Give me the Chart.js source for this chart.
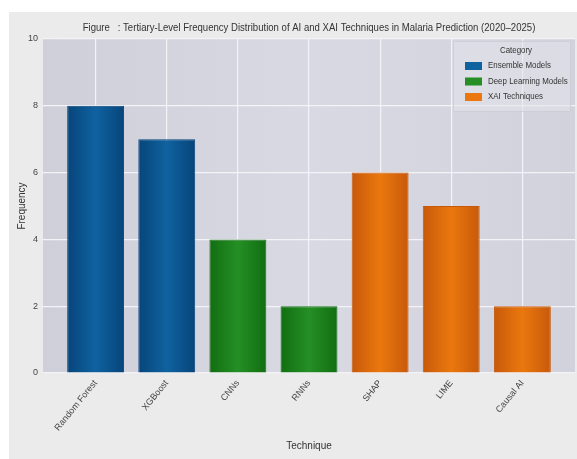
<!DOCTYPE html>
<html>
<head>
<meta charset="utf-8">
<script src="https://cdn.jsdelivr.net/npm/chart.js@4/dist/chart.umd.min.js"></script>
<style>
  body { margin: 0; background: #fff; }
  #wrap { width: 577px; height: 459px; }
</style>
</head>
<body>
<div id="wrap"><canvas id="freqChart" width="577" height="459"></canvas></div>
<script>
const techniques = ['Random Forest', 'XGBoost', 'CNNs', 'RNNs', 'SHAP', 'LIME', 'Causal AI'];
const frequency = [8, 7, 4, 2, 6, 5, 2];
const techniqueCategory = [0, 0, 1, 1, 2, 2, 2];
const categories = ['Ensemble Models', 'Deep Learning Models', 'XAI Techniques'];
const yTicks = [0, 2, 4, 6, 8, 10];

const mainColors = ['#0f62a0', '#258f25', '#ea780e'];
const edgeColors = ['#07457a', '#116e11', '#c8590a'];
const FONT = "'Liberation Sans', Arial, sans-serif";

function shade(k) {
    return function (c) {
        const x = c.chart.scales.x;
        if (!x || !c.raw) return mainColors[k];
        const l = x.getPixelForValue(c.raw.x - 0.4);
        const r = x.getPixelForValue(c.raw.x + 0.4);
        if (!isFinite(l) || !isFinite(r)) return mainColors[k];
        const g = c.chart.ctx.createLinearGradient(l, 0, r, 0);
        g.addColorStop(0, edgeColors[k]);
        g.addColorStop(0.5, mainColors[k]);
        g.addColorStop(1, edgeColors[k]);
        return g;
    };
}

const datasets = categories.map((name, k) => ({
    label: name,
    data: techniques.map((t, i) => ({ x: i, y: frequency[i] })).filter((p, i) => techniqueCategory[i] === k),
    backgroundColor: shade(k),
    borderColor: edgeColors[k],
    borderWidth: 1,
    grouped: false,
    barPercentage: 1,
    categoryPercentage: 0.8
}));

// narrow text: the reference uses a condensed face
function narrowText(c, text, x, y, sx) {
    c.save();
    c.translate(x, y);
    c.scale(sx, 1);
    c.fillText(text, 0, 0);
    c.restore();
}

// figure frame, plot background, title, legend
const decor = {
    id: 'decor',
    beforeDraw(chart) {
        const c = chart.ctx, a = chart.chartArea;
        c.save();
        c.fillStyle = '#ffffff';
        c.fillRect(0, 0, chart.width, chart.height);
        c.fillStyle = '#ebebeb';
        c.fillRect(9, 12, chart.width - 9, chart.height - 12);
        const g = c.createLinearGradient(a.left, 0, a.right, 0);
        g.addColorStop(0, '#cfcfda');
        g.addColorStop(0.5, '#d9d9e3');
        g.addColorStop(1, '#d2d2dd');
        c.fillStyle = g;
        c.fillRect(a.left, a.top, a.right - a.left, a.bottom - a.top);
        c.restore();
    },
    afterDraw(chart) {
        const c = chart.ctx;
        c.save();
        c.fillStyle = '#333';
        c.font = '11px ' + FONT;
        c.textAlign = 'center';
        c.textBaseline = 'middle';
        narrowText(c, 'Figure   : Tertiary-Level Frequency Distribution of AI and XAI Techniques in Malaria Prediction (2020\u20132025)', 309, 28, 0.87);

        // legend
        const bx = 453, by = 41, bw = 117, bh = 70;
        c.fillStyle = 'rgba(226,226,233,0.6)';
        c.strokeStyle = 'rgba(205,205,214,0.9)';
        c.lineWidth = 1;
        c.fillRect(bx, by, bw, bh);
        c.strokeRect(bx + 0.5, by + 0.5, bw, bh);
        c.fillStyle = '#333';
        c.font = '9px ' + FONT;
        narrowText(c, 'Category', 516, 51, 0.88);
        c.textAlign = 'left';
        categories.forEach((name, k) => {
            const y = 66 + k * 15.5;
            c.fillStyle = mainColors[k];
            c.fillRect(465, y - 4, 17, 8);
            c.fillStyle = '#333';
            narrowText(c, name, 488, y, 0.88);
        });
        c.restore();
    }
};

const ctx = document.getElementById('freqChart').getContext('2d');
const freqChart = new Chart(ctx, {
    type: 'bar',
    data: { datasets: datasets },
    options: {
        responsive: false,
        animation: false,
        layout: { padding: { top: 39, right: 2, left: 0, bottom: 0 } },
        plugins: {
            legend: { display: false },
            tooltip: { enabled: false }
        },
        scales: {
            x: {
                type: 'linear',
                offset: false,
                min: -0.74,
                max: 6.74,
                afterBuildTicks: s => { s.ticks = techniques.map((t, i) => ({ value: i })); },
                afterFit: s => { s.height = 86; },
                grid: { color: '#f4f4f8', lineWidth: 1.2, drawTicks: false, offset: false },
                border: { display: false },
                ticks: {
                    autoSkip: false,
                    minRotation: 51,
                    maxRotation: 51,
                    padding: 5,
                    color: '#444',
                    font: { family: FONT, size: 9 },
                    callback: v => techniques[v]
                },
                title: {
                    display: true,
                    text: 'Technique',
                    color: '#333',
                    font: { family: FONT, size: 10 },
                    padding: { top: 0, bottom: 7 }
                }
            },
            y: {
                min: 0,
                max: 10,
                afterBuildTicks: s => { s.ticks = yTicks.map(v => ({ value: v })); },
                afterFit: s => { s.width = 43; },
                grid: { color: '#f4f4f8', lineWidth: 1.2, drawTicks: false },
                border: { display: false },
                ticks: {
                    padding: 5,
                    color: '#444',
                    font: { family: FONT, size: 9 }
                },
                title: {
                    display: true,
                    text: 'Frequency',
                    color: '#333',
                    font: { family: FONT, size: 10 },
                    padding: { top: 16, bottom: 0 }
                }
            }
        }
    },
    plugins: [decor]
});
</script>
</body>
</html>
